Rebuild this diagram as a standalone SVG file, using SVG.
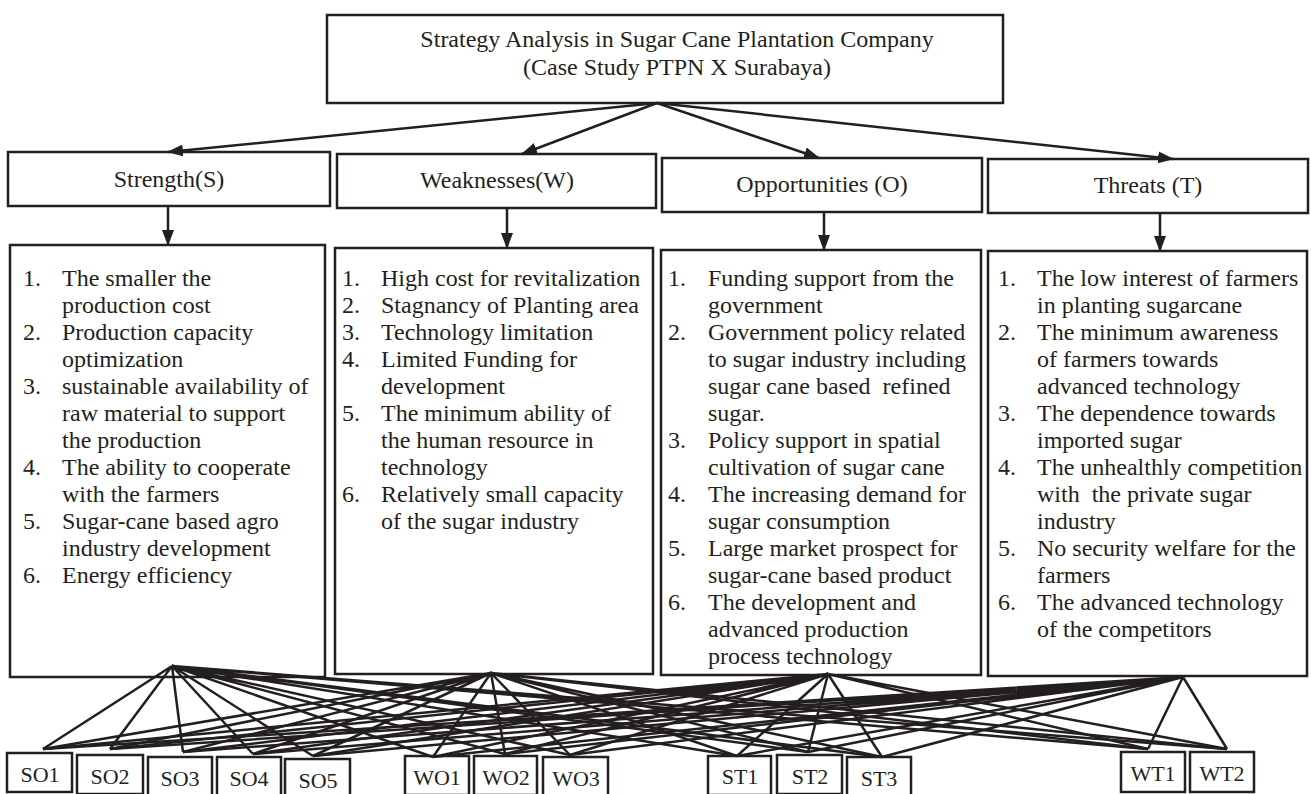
<svg xmlns="http://www.w3.org/2000/svg" width="1311" height="794" viewBox="0 0 1311 794">
<defs>
<style>
.box{fill:#fff;stroke:#231f20;stroke-width:2.5}
.t{font-family:"Liberation Serif","Times New Roman",serif;font-size:24px;fill:#231f20;white-space:pre}
.s{font-size:22px}
.c{text-anchor:middle}
.ln{stroke:#231f20;stroke-width:2.5;fill:none}
.ar{stroke:#231f20;stroke-width:2.5;fill:none;marker-end:url(#ah)}
</style>
<marker id="ah" markerUnits="userSpaceOnUse" markerWidth="16" markerHeight="12" refX="15" refY="6" orient="auto">
<path d="M0,0 L16,6 L0,12 Z" fill="#231f20"/>
</marker>
</defs>
<rect width="1311" height="794" fill="#fff"/>

<g id="title">
<rect class="box" x="327" y="15" width="676" height="88"/>
<text class="t c" x="677" y="47">Strategy Analysis in Sugar Cane Plantation Company</text>
<text class="t c" x="677" y="75">(Case Study PTPN X Surabaya)</text>
</g>

<g id="hdr-s"><rect class="box" x="8" y="152" width="322" height="54"/><text class="t c" x="169" y="187">Strength(S)</text></g>
<g id="hdr-w"><rect class="box" x="337" y="154" width="319" height="54"/><text class="t c" x="497" y="188">Weaknesses(W)</text></g>
<g id="hdr-o"><rect class="box" x="662" y="158" width="320" height="54"/><text class="t c" x="822" y="192">Opportunities (O)</text></g>
<g id="hdr-t"><rect class="box" x="988" y="159" width="320" height="54"/><text class="t c" x="1148" y="193">Threats (T)</text></g>

<g id="box-s">
<rect class="box" x="10" y="245" width="315" height="432"/>
<text class="t" x="23" y="286">1.</text><text class="t" x="62" y="286">The smaller the</text>
<text class="t" x="62" y="313">production cost</text>
<text class="t" x="23" y="340">2.</text><text class="t" x="62" y="340">Production capacity</text>
<text class="t" x="62" y="367">optimization</text>
<text class="t" x="23" y="394">3.</text><text class="t" x="62" y="394">sustainable availability of</text>
<text class="t" x="62" y="421">raw material to support</text>
<text class="t" x="62" y="448">the production</text>
<text class="t" x="23" y="475">4.</text><text class="t" x="62" y="475">The ability to cooperate</text>
<text class="t" x="62" y="502">with the farmers</text>
<text class="t" x="23" y="529">5.</text><text class="t" x="62" y="529">Sugar-cane based agro</text>
<text class="t" x="62" y="556">industry development</text>
<text class="t" x="23" y="583">6.</text><text class="t" x="62" y="583">Energy efficiency</text>
</g>

<g id="box-w">
<rect class="box" x="335" y="248" width="318" height="426"/>
<text class="t" x="342" y="286">1.</text><text class="t" x="381" y="286">High cost for revitalization</text>
<text class="t" x="342" y="313">2.</text><text class="t" x="381" y="313">Stagnancy of Planting area</text>
<text class="t" x="342" y="340">3.</text><text class="t" x="381" y="340">Technology limitation</text>
<text class="t" x="342" y="367">4.</text><text class="t" x="381" y="367">Limited Funding for</text>
<text class="t" x="381" y="394">development</text>
<text class="t" x="342" y="421">5.</text><text class="t" x="381" y="421">The minimum ability of</text>
<text class="t" x="381" y="448">the human resource in</text>
<text class="t" x="381" y="475">technology</text>
<text class="t" x="342" y="502">6.</text><text class="t" x="381" y="502">Relatively small capacity</text>
<text class="t" x="381" y="529">of the sugar industry</text>
</g>

<g id="box-o">
<rect class="box" x="661" y="250" width="320" height="425"/>
<text class="t" x="668" y="286">1.</text><text class="t" x="708" y="286">Funding support from the</text>
<text class="t" x="708" y="313">government</text>
<text class="t" x="668" y="340">2.</text><text class="t" x="708" y="340">Government policy related</text>
<text class="t" x="708" y="367">to sugar industry including</text>
<text class="t" x="708" y="394">sugar cane based  refined</text>
<text class="t" x="708" y="421">sugar.</text>
<text class="t" x="668" y="448">3.</text><text class="t" x="708" y="448">Policy support in spatial</text>
<text class="t" x="708" y="475">cultivation of sugar cane</text>
<text class="t" x="668" y="502">4.</text><text class="t" x="708" y="502">The increasing demand for</text>
<text class="t" x="708" y="529">sugar consumption</text>
<text class="t" x="668" y="556">5.</text><text class="t" x="708" y="556">Large market prospect for</text>
<text class="t" x="708" y="583">sugar-cane based product</text>
<text class="t" x="668" y="610">6.</text><text class="t" x="708" y="610">The development and</text>
<text class="t" x="708" y="637">advanced production</text>
<text class="t" x="708" y="664">process technology</text>
</g>

<g id="box-t">
<rect class="box" x="988" y="251" width="319" height="425"/>
<text class="t" x="998" y="286">1.</text><text class="t" x="1037" y="286">The low interest of farmers</text>
<text class="t" x="1037" y="313">in planting sugarcane</text>
<text class="t" x="998" y="340">2.</text><text class="t" x="1037" y="340">The minimum awareness</text>
<text class="t" x="1037" y="367">of farmers towards</text>
<text class="t" x="1037" y="394">advanced technology</text>
<text class="t" x="998" y="421">3.</text><text class="t" x="1037" y="421">The dependence towards</text>
<text class="t" x="1037" y="448">imported sugar</text>
<text class="t" x="998" y="475">4.</text><text class="t" x="1037" y="475">The unhealthly competition</text>
<text class="t" x="1037" y="502">with  the private sugar</text>
<text class="t" x="1037" y="529">industry</text>
<text class="t" x="998" y="556">5.</text><text class="t" x="1037" y="556">No security welfare for the</text>
<text class="t" x="1037" y="583">farmers</text>
<text class="t" x="998" y="610">6.</text><text class="t" x="1037" y="610">The advanced technology</text>
<text class="t" x="1037" y="637">of the competitors</text>
</g>

<g id="so1"><rect class="box" x="7" y="753" width="65" height="39"/><text class="t s c" x="40" y="782">SO1</text></g>
<g id="so2"><rect class="box" x="77" y="755" width="66" height="39"/><text class="t s c" x="110" y="784">SO2</text></g>
<g id="so3"><rect class="box" x="148" y="757" width="64" height="39"/><text class="t s c" x="180" y="786">SO3</text></g>
<g id="so4"><rect class="box" x="217" y="757" width="64" height="39"/><text class="t s c" x="249" y="786">SO4</text></g>
<g id="so5"><rect class="box" x="285" y="759" width="65" height="39"/><text class="t s c" x="318" y="788">SO5</text></g>
<g id="wo1"><rect class="box" x="405" y="756" width="64" height="39"/><text class="t s c" x="437" y="785">WO1</text></g>
<g id="wo2"><rect class="box" x="474" y="756" width="63" height="39"/><text class="t s c" x="506" y="785">WO2</text></g>
<g id="wo3"><rect class="box" x="543" y="757" width="65" height="39"/><text class="t s c" x="576" y="786">WO3</text></g>
<g id="st1"><rect class="box" x="708" y="756" width="63" height="39"/><text class="t s c" x="740" y="784">ST1</text></g>
<g id="st2"><rect class="box" x="777" y="755" width="65" height="39"/><text class="t s c" x="810" y="784">ST2</text></g>
<g id="st3"><rect class="box" x="847" y="757" width="64" height="39"/><text class="t s c" x="879" y="786">ST3</text></g>
<g id="wt1"><rect class="box" x="1121" y="752" width="64" height="40"/><text class="t s c" x="1153" y="781">WT1</text></g>
<g id="wt2"><rect class="box" x="1190" y="752" width="64" height="40"/><text class="t s c" x="1222" y="781">WT2</text></g>

<g id="connectors">
<line class="ar" x1="657" y1="103" x2="168" y2="152"/>
<line class="ar" x1="657" y1="103" x2="522" y2="154"/>
<line class="ar" x1="657" y1="103" x2="819" y2="158"/>
<line class="ar" x1="657" y1="103" x2="1173" y2="159"/>
<line class="ar" x1="168" y1="206" x2="168" y2="245"/>
<line class="ar" x1="507" y1="208" x2="507" y2="248"/>
<line class="ar" x1="824" y1="212" x2="824" y2="250"/>
<line class="ar" x1="1160" y1="213" x2="1160" y2="251"/>
<path class="ln" d="M172,666 L43,749 M172,666 L110,749 M172,666 L183,752 M172,666 L253,754 M172,666 L313,756 M172,666 L433,757 M172,666 L505,754 M172,666 L570,755 M172,666 L737,756 M172,666 L808,752 M172,666 L882,757 M172,666 L1148,749 M172,666 L1227,749"/>
<path class="ln" d="M491,673 L43,749 M491,673 L110,749 M491,673 L183,752 M491,673 L253,754 M491,673 L313,756 M491,673 L433,757 M491,673 L505,754 M491,673 L570,755 M491,673 L737,756 M491,673 L808,752 M491,673 L882,757 M491,673 L1148,749 M491,673 L1227,749"/>
<path class="ln" d="M828,674 L43,749 M828,674 L110,749 M828,674 L183,752 M828,674 L253,754 M828,674 L313,756 M828,674 L433,757 M828,674 L505,754 M828,674 L570,755 M828,674 L737,756 M828,674 L808,752 M828,674 L882,757 M828,674 L1148,749 M828,674 L1227,749"/>
<path class="ln" d="M1183,677 L43,749 M1183,677 L110,749 M1183,677 L183,752 M1183,677 L253,754 M1183,677 L313,756 M1183,677 L433,757 M1183,677 L505,754 M1183,677 L570,755 M1183,677 L737,756 M1183,677 L808,752 M1183,677 L882,757 M1183,677 L1148,749 M1183,677 L1227,749"/>
</g>
</svg>
